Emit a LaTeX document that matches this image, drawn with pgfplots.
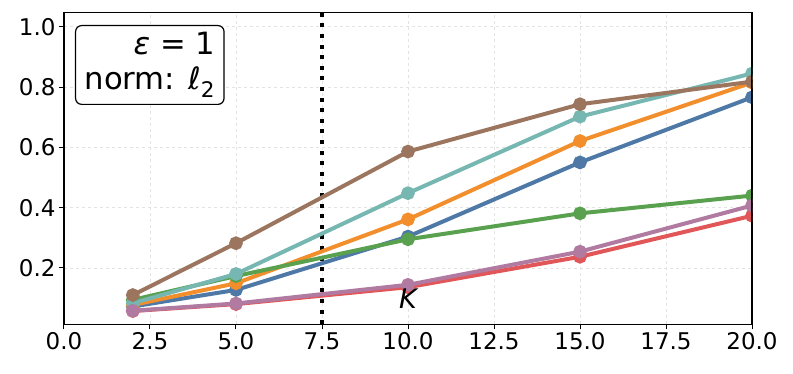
\documentclass[border=0pt]{standalone}
\usepackage{fontspec}
\setmainfont{DejaVu Sans}
\usepackage{pgfplots}
\pgfplotsset{compat=1.18}

\definecolor{cblue}{HTML}{4E79A7}
\definecolor{corange}{HTML}{F28E2B}
\definecolor{cgreen}{HTML}{59A14F}
\definecolor{cred}{HTML}{E15759}
\definecolor{cteal}{HTML}{76B7B2}
\definecolor{cpurple}{HTML}{B07AA1}
\definecolor{cbrown}{HTML}{9C755F}

\pgfplotsset{
  series/.style={line width=4pt, mark=*, mark size=4.8pt,
    color=#1, mark options={solid, fill=#1, draw=#1}},
}

\begin{document}
\begin{tikzpicture}
\begin{axis}[
    scale only axis,
    width=688pt, height=312pt,
    xmin=0, xmax=20, ymin=0.013, ymax=1.048,
    xtick={0,2.5,5,7.5,10,12.5,15,17.5,20},
    ytick={0.2,0.4,0.6,0.8,1.0},
    /pgf/number format/.cd, fixed, fixed zerofill, precision=1, assume math mode=true,
    /pgfplots/.cd,
    tick label style={font=\fontsize{23}{27}\selectfont, black},
    tick align=outside,
    major tick length=5pt,
    tick style={black, line width=1pt},
    xtick pos=bottom, ytick pos=left,
    axis line style={black, line width=1.2pt},
    grid=major,
    grid style={dashed, gray!22, line width=0.8pt},
    clip marker paths=true,
]

% dotted vertical marker at 7.5
\addplot[black, line width=4pt, dash pattern=on 4pt off 6.6pt] coordinates {(7.5,0.013) (7.5,1.048)};

\addplot[series=cblue] coordinates {(2,0.072) (5,0.127) (10,0.304) (15,0.550) (20,0.766)};
\addplot[series=corange] coordinates {(2,0.077) (5,0.149) (10,0.361) (15,0.621) (20,0.815)};
\addplot[series=cred] coordinates {(2,0.057) (5,0.080) (10,0.136) (15,0.237) (20,0.373)};
\addplot[series=cgreen] coordinates {(2,0.094) (5,0.173) (10,0.295) (15,0.381) (20,0.440)};
\addplot[series=cteal] coordinates {(2,0.083) (5,0.180) (10,0.448) (15,0.702) (20,0.845)};
\addplot[series=cpurple] coordinates {(2,0.058) (5,0.082) (10,0.144) (15,0.254) (20,0.407)};
\addplot[series=cbrown] coordinates {(2,0.110) (5,0.282) (10,0.586) (15,0.743) (20,0.818)};

\node[anchor=base, font=\fontsize{27}{32}\selectfont\itshape] at (axis cs:10,0.064) {K};

\node[anchor=north west, draw=black, line width=1.2pt, rounded corners=6pt, fill=white,
      align=right, inner xsep=9pt, inner ysep=7pt,
      font=\fontsize{30.7}{35}\selectfont]
  at ([xshift=11pt, yshift=-12.7pt]rel axis cs:0,1)
  {\textit{ε} = 1\\norm: \textit{ℓ}\textsubscript{2}};

\draw[black, line width=1.2pt] (rel axis cs:0,0) rectangle (rel axis cs:1,1);
\end{axis}
\pgfresetboundingbox
\path[use as bounding box] (-64pt,-49.7pt) rectangle (729pt,324.3pt);
\end{tikzpicture}
\end{document}
